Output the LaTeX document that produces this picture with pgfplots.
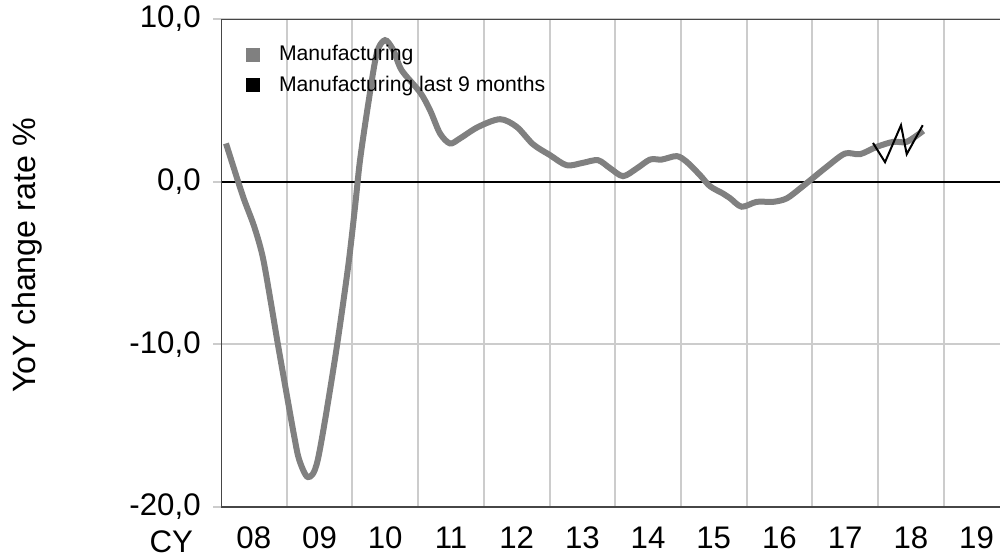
\documentclass[border=0pt]{standalone}
\usepackage{fontspec}
\setmainfont{Liberation Sans}
\usepackage{pgfplots}
\pgfplotsset{compat=1.18}
\pgfplotsset{layers/mylayers/.define layer set={axis background,axis grid,axis ticks,axis lines,axis tick labels,axis descriptions,pre main,main,axis foreground}{}}
\definecolor{linegray}{RGB}{128,128,128}
\definecolor{gridgray}{RGB}{204,204,204}
\definecolor{framegray}{RGB}{70,70,70}
\begin{document}
\begin{tikzpicture}
\begin{axis}[
 set layers=mylayers,
 scale only axis, width=389.5pt, height=244pt,
 xmin=2008, xmax=2019.857, ymin=-20, ymax=10,
 axis line style={draw=none},
 xtick={2008.5,2009.5,2010.5,2011.5,2012.5,2013.5,2014.5,2015.5,2016.5,2017.5,2018.5,2019.5},
 xticklabels={08,09,10,11,12,13,14,15,16,17,18,19},
 xtick style={draw=none},
 xticklabel style={anchor=base, yshift=-16.5pt, font=\fontsize{15.6}{18}\selectfont},
 extra x ticks={2009,2010,2011,2012,2013,2014,2015,2016,2017,2018,2019},
 extra x tick labels={},
 extra x tick style={grid=major, tick style={draw=gridgray, line width=1pt}, tick align=outside, major tick length=4pt},
 ytick={-20,-10,0,10},
 yticklabels={{-20,0},{-10,0},{0,0},{10,0}},
 ymajorgrids,
 grid style={gridgray, line width=1pt},
 ytick style={draw=gridgray, line width=1pt},
 tick align=outside, major tick length=4pt,
 yticklabel style={anchor=east, inner sep=0pt, xshift=-6pt, font=\fontsize{15.6}{18}\selectfont},
 ylabel={YoY change rate \%},
 ylabel style={at={(rel axis cs:0,0.5)}, anchor=center, yshift=97pt, xshift=3.75pt, font=\fontsize{16.1}{18}\selectfont},
 legend style={at={(rel axis cs:0,1)}, anchor=north west, xshift=9.3pt, yshift=-9pt, draw=none, fill=none, font=\fontsize{10.6}{12}\selectfont, row sep=2pt},
 legend cell align=left,
 legend image code/.code={\fill[#1, draw=none] (0pt,-3.5pt) rectangle (7pt,3.5pt); \path[draw=none] (0pt,0pt) -- (14.5pt,0pt);},
]
\coordinate (bl) at (rel axis cs:0,0);
\draw[black, line width=1pt] ([xshift=-4pt]axis cs:2008,0) -- (axis cs:2019.857,0);
\draw[framegray, line width=0.6pt] (rel axis cs:1,1) -- (rel axis cs:0,1) -- (rel axis cs:0,0) -- (rel axis cs:1,0);
\addplot[color=linegray, line width=3pt, smooth, tension=0.5] coordinates {
(2008.076,2.35) (2008.254,0.09) (2008.355,-1.14) (2008.507,-2.78) (2008.635,-4.62)
(2008.761,-7.47) (2008.863,-9.93) (2008.989,-12.82) (2009.116,-15.69) (2009.192,-17.12)
(2009.324,-18.16) (2009.472,-17.12) (2009.724,-11.17) (2009.928,-5.44) (2010.040,-1.55)
(2010.116,1.32) (2010.242,4.81) (2010.370,7.88) (2010.496,8.70) (2010.623,8.08)
(2010.750,6.85) (2011.029,5.50) (2011.181,4.40) (2011.333,2.97) (2011.486,2.35)
(2011.638,2.66) (2011.916,3.37) (2012.247,3.84) (2012.501,3.37) (2012.749,2.30)
(2013.008,1.63) (2013.262,1.01) (2013.510,1.16) (2013.738,1.32) (2013.921,0.83)
(2014.119,0.34) (2014.327,0.81) (2014.530,1.36) (2014.708,1.36) (2014.936,1.57)
(2015.088,1.22) (2015.291,0.40) (2015.443,-0.28) (2015.641,-0.73) (2015.747,-1.01)
(2015.925,-1.54) (2016.154,-1.24) (2016.406,-1.24) (2016.610,-1.03) (2016.813,-0.42)
(2016.939,-0.01) (2017.219,0.91) (2017.498,1.73) (2017.726,1.69) (2017.980,2.14)
(2018.233,2.45) (2018.437,2.45) (2018.689,3.13)
};
\addlegendentry{Manufacturing}
\addplot[color=black, line width=1pt] coordinates {
(2017.924,2.38) (2018.107,1.20) (2018.350,3.47) (2018.437,1.69) (2018.681,3.47)
};
\addlegendentry{Manufacturing last 9 months}
\end{axis}
\node[anchor=base east, font=\fontsize{15.6}{18}\selectfont] at ([xshift=-10.5pt, yshift=-22.5pt]bl) {CY};
\pgfresetboundingbox
\path (bl) ++(-110.5pt,-25.5pt) rectangle ++(500pt,279pt);
\end{tikzpicture}
\end{document}
